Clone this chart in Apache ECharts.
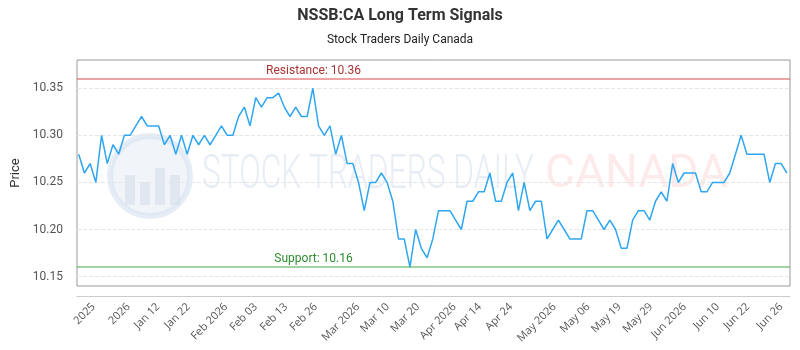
<!DOCTYPE html>
<html>
<head>
<meta charset="utf-8">
<script src="https://cdn.jsdelivr.net/npm/echarts@6/dist/echarts.min.js"></script>
<style>
  html, body { margin: 0; padding: 0; background: #fff; }
  #chart { width: 800px; height: 350px; }
</style>
</head>
<body>
<div id="chart"></div>
<script>
// price points, one per session
var prices = [
    10.28, 10.26, 10.27, 10.25, 10.30, 10.27, 10.29, 10.28, 10.30, 10.30,
    10.31, 10.32, 10.31, 10.31, 10.31, 10.29, 10.30, 10.28, 10.30, 10.28,
    10.30, 10.29, 10.30, 10.29, 10.30, 10.31, 10.30, 10.30, 10.32, 10.33,
    10.31, 10.34, 10.33, 10.34, 10.34, 10.345, 10.33, 10.32, 10.33, 10.32,
    10.32, 10.35, 10.31, 10.30, 10.31, 10.28, 10.30, 10.27, 10.27, 10.25,
    10.22, 10.25, 10.25, 10.26, 10.25, 10.23, 10.19, 10.19, 10.16, 10.20,
    10.18, 10.17, 10.19, 10.22, 10.22, 10.22, 10.21, 10.20, 10.23, 10.23,
    10.24, 10.24, 10.26, 10.23, 10.23, 10.25, 10.26, 10.22, 10.25, 10.22,
    10.23, 10.23, 10.19, 10.20, 10.21, 10.20, 10.19, 10.19, 10.19, 10.22,
    10.22, 10.21, 10.20, 10.21, 10.20, 10.18, 10.18, 10.21, 10.22, 10.22,
    10.21, 10.23, 10.24, 10.23, 10.27, 10.25, 10.26, 10.26, 10.26, 10.24,
    10.24, 10.25, 10.25, 10.25, 10.26, 10.28, 10.30, 10.28, 10.28, 10.28,
    10.28, 10.25, 10.27, 10.27, 10.26
];

// x tick labels and where they sit (in session index units)
var xTickLabels = ['2025', '2026', 'Jan 12', 'Jan 22', 'Feb 2026', 'Feb 03', 'Feb 13', 'Feb 26',
    'Mar 2026', 'Mar 10', 'Mar 20', 'Apr 2026', 'Apr 14', 'Apr 24', 'May 2026', 'May 06',
    'May 19', 'May 29', 'Jun 2026', 'Jun 10', 'Jun 22', 'Jun 26'];
var xTickPos = [2.6, 8.7, 13.9, 19.2, 25.8, 31.0, 36.3, 41.5, 48.9, 54.1, 59.4, 65.8,
    70.2, 75.7, 83.3, 89.2, 94.7, 100.2, 106.1, 111.9, 117.2, 123.0];

var yTicks = [10.15, 10.20, 10.25, 10.30, 10.35];
var resistance = 10.36;
var support = 10.16;

var seriesData = prices.map(function (v, i) { return [i, v]; });

var chart = echarts.init(document.getElementById('chart'));

var option = {
    animation: false,
    backgroundColor: '#fff',
    title: {
        text: 'NSSB:CA Long Term Signals',
        subtext: 'Stock Traders Daily Canada',
        left: 'center',
        top: 3,
        itemGap: 10,
        textStyle: { fontFamily: 'Roboto', fontSize: 16, fontWeight: 'bold', color: '#333' },
        subtextStyle: { fontFamily: 'Roboto', fontSize: 12, color: '#222' }
    },
    graphic: [
        // faint watermark
        {
            type: 'circle', silent: true, z: 0,
            shape: { cx: 150, cy: 176, r: 40 },
            style: { fill: 'rgba(225,232,244,0.45)', stroke: 'rgba(215,225,240,0.6)', lineWidth: 6 }
        },
        {
            type: 'group', silent: true, z: 0,
            children: [
                { type: 'rect', shape: { x: 125, y: 175, width: 10, height: 30 }, style: { fill: 'rgba(210,218,232,0.5)' } },
                { type: 'rect', shape: { x: 140, y: 182, width: 10, height: 23 }, style: { fill: 'rgba(210,218,232,0.5)' } },
                { type: 'rect', shape: { x: 155, y: 168, width: 10, height: 37 }, style: { fill: 'rgba(210,218,232,0.5)' } },
                { type: 'rect', shape: { x: 170, y: 175, width: 10, height: 30 }, style: { fill: 'rgba(210,218,232,0.5)' } }
            ]
        },
        {
            type: 'text', silent: true, z: 0, left: 202, top: 152, scaleX: 0.66,
            style: { text: 'STOCK TRADERS DAILY', fontFamily: 'Roboto', fontWeight: 300, fontSize: 48, fill: 'rgba(205,215,232,0.45)' }
        },
        {
            type: 'text', silent: true, z: 0, left: 545, top: 152,
            style: { text: 'CANADA', fontFamily: 'Roboto', fontSize: 46, fill: 'rgba(250,195,195,0.35)' }
        }
    ],
    grid: {
        left: 77, right: 10, top: 60, bottom: 64,
        show: true, borderColor: '#999', borderWidth: 1, backgroundColor: 'transparent'
    },
    xAxis: {
        type: 'value',
        min: -0.3,
        max: 124.55,
        offset: 10,
        axisLine: { show: true, lineStyle: { color: '#ccc' } },
        axisTick: { show: false, customValues: xTickPos },
        splitLine: { show: false },
        axisLabel: {
            customValues: xTickPos,
            rotate: 45,
            margin: 9,
            fontFamily: 'Open Sans',
            fontSize: 11,
            color: '#555',
            formatter: function (v) {
                var k = xTickPos.indexOf(v);
                return k >= 0 ? xTickLabels[k] : '';
            }
        }
    },
    yAxis: {
        type: 'value',
        min: 10.14,
        max: 10.38,
        name: 'Price',
        nameLocation: 'middle',
        nameGap: 55,
        nameTextStyle: { fontFamily: 'Roboto', fontSize: 13, color: '#333' },
        axisLine: { show: false },
        axisTick: { show: false, customValues: yTicks },
        axisLabel: {
            customValues: yTicks,
            margin: 14,
            fontFamily: 'Roboto',
            fontSize: 12,
            color: '#555',
            formatter: function (v) { return v.toFixed(2); }
        },
        splitLine: { show: true, lineStyle: { color: '#e6e6e6', type: 'dashed' } }
    },
    series: [{
        type: 'line',
        data: seriesData,
        showSymbol: false,
        lineStyle: { color: '#2fa6f2', width: 1.5 },
        z: 3,
        markLine: {
            silent: true,
            symbol: 'none',
            data: [
                {
                    yAxis: resistance,
                    lineStyle: { color: 'rgba(220,80,80,0.7)', width: 1.5, type: 'solid' },
                    label: { formatter: 'Resistance: ' + resistance.toFixed(2), position: 'insideMiddleTop', offset: [-120, 0], color: '#a33', fontFamily: 'Roboto', fontSize: 12, distance: 2 }
                },
                {
                    yAxis: support,
                    lineStyle: { color: 'rgba(80,170,80,0.7)', width: 1.5, type: 'solid' },
                    label: { formatter: 'Support: ' + support.toFixed(2), position: 'insideMiddleTop', offset: [-120, 0], color: '#2e8b2e', fontFamily: 'Roboto', fontSize: 12, distance: 2 }
                }
            ]
        }
    }]
};

chart.setOption(option);
</script>
</body>
</html>
